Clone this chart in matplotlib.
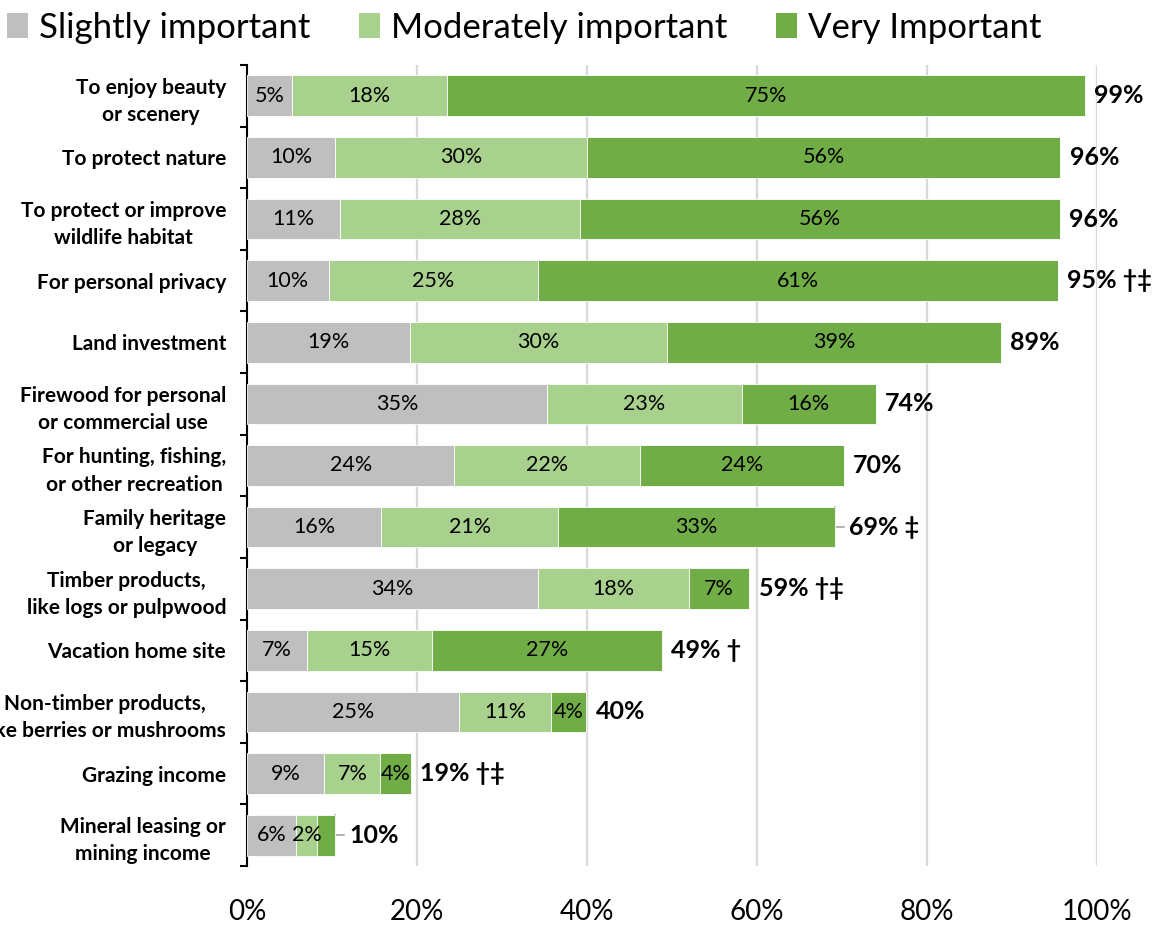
import matplotlib
matplotlib.use("Agg")
import matplotlib.pyplot as plt
from matplotlib.patches import Patch

plt.rcParams['font.family'] = ['Lato', 'DejaVu Sans']

categories = [
    "To enjoy beauty\nor scenery",
    "To protect nature",
    "To protect or improve\nwildlife habitat",
    "For personal privacy",
    "Land investment",
    "Firewood for personal\nor commercial use",
    "For hunting, fishing,\nor other recreation",
    "Family heritage\nor legacy",
    "Timber products,\nlike logs or pulpwood",
    "Vacation home site",
    "Non-timber products,\nlike berries or mushrooms",
    "Grazing income",
    "Mineral leasing or\nmining income",
]
slightly = [5.3, 10.4, 10.9, 9.6, 19.2, 35.3, 24.4, 15.8, 34.2, 7.0, 24.9, 9.1, 5.8]
moderately = [18.2, 29.6, 28.3, 24.6, 30.2, 22.9, 21.8, 20.8, 17.8, 14.8, 10.9, 6.6, 2.4]
very = [75.1, 55.7, 56.4, 61.2, 39.3, 15.8, 24.0, 32.6, 7.1, 27.0, 4.1, 3.6, 2.2]
marks = ["", "", "", "†‡", "", "", "", "‡", "†‡", "†", "", "†‡", ""]
leader = [False, False, False, False, False, False, False, True, False, False, False, False, True]
show_very_label = [True] * 12 + [False]

series = [
    ("Slightly important", slightly, "#BFBFBF"),
    ("Moderately important", moderately, "#A9D18E"),
    ("Very Important", very, "#70AD47"),
]

fig = plt.figure(figsize=(11.63, 9.26), dpi=100)
ax = fig.add_axes([247 / 1163, 1 - 866 / 926, 850 / 1163, (866 - 65) / 926])

n = len(categories)
ypos = list(range(n))
left = [0.0] * n
for name, vals, col in series:
    bars = ax.barh(ypos, vals, left=left, height=0.66, color=col,
                   edgecolor="white", linewidth=0.6, label=name, zorder=3)
    for i, (b, v) in enumerate(zip(bars, vals)):
        if name == "Very Important" and not show_very_label[i]:
            continue
        ax.text(left[i] + v / 2, i, f"{round(v):.0f}%", ha="center", va="center",
                fontsize=15.5, color="black", zorder=4)
    left = [l + v for l, v in zip(left, vals)]

totals = left
for i, t in enumerate(totals):
    label = f"{round(t):.0f}%" + (f" {marks[i]}" if marks[i] else "")
    if leader[i]:
        ax.plot([t, t, t + 1.0], [i - 0.33, i, i], color="#A6A6A6", lw=1.2,
                zorder=2, clip_on=False)
        x0 = t + 1.6
    else:
        x0 = t + 1.1
    ax.text(x0, i, label, ha="left", va="center", fontsize=18,
            fontweight="bold", color="black", zorder=4)

ax.set_xlim(0, 100)
ax.set_ylim(n - 0.5, -0.5)
ax.set_xticks([0, 20, 40, 60, 80, 100])
ax.set_xticklabels([f"{v}%" for v in [0, 20, 40, 60, 80, 100]], fontsize=20)
ax.tick_params(axis="x", length=0, pad=24)
ax.grid(axis="x", color="#D9D9D9", linewidth=1.6, zorder=0)

# category boundaries as major ticks, names as minor tick labels
ax.set_yticks([i - 0.5 for i in range(n + 1)])
ax.set_yticklabels([])
ax.tick_params(axis="y", which="major", length=5, width=1.5, direction="out")
ax.set_yticks(ypos, minor=True)
ax.set_yticklabels(categories, minor=True, fontsize=15, fontweight="bold",
                   multialignment="center", linespacing=1.45)
ax.tick_params(axis="y", which="minor", length=0, pad=15)

for s in ["top", "right", "bottom"]:
    ax.spines[s].set_visible(False)
ax.spines["left"].set_linewidth(1.5)
ax.set_axisbelow(True)

handles = [Patch(facecolor=c, edgecolor="none") for _, _, c in series]
fig.legend(handles, [s[0] for s in series], loc="upper left",
           bbox_to_anchor=(0.0, 0.995), ncol=3, frameon=False, fontsize=25,
           handlelength=0.62, handleheight=0.72, handletextpad=0.3,
           columnspacing=1.4, borderaxespad=0.0, borderpad=0.2)

fig.savefig("out.png", dpi=100)
